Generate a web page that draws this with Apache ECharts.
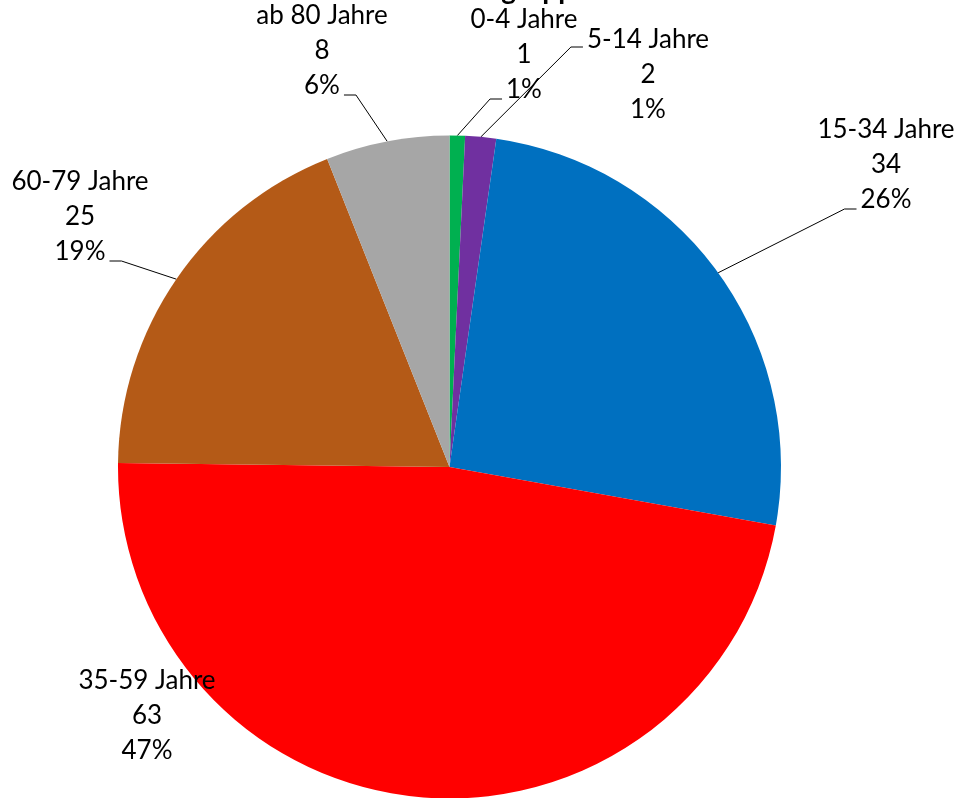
<!DOCTYPE html>
<html><head><meta charset="utf-8">
<script src="https://cdn.jsdelivr.net/npm/echarts@6/dist/echarts.min.js"></script>
<style>html,body{margin:0;padding:0;background:#fff}#c{width:958px;height:798px}</style>
</head><body><div id="c"></div>
<script>
const categories = ['0-4 Jahre', '5-14 Jahre', '15-34 Jahre', '35-59 Jahre', '60-79 Jahre', 'ab 80 Jahre'];
const values = [1, 2, 34, 63, 25, 8];
const percentLabels = ['1%', '1%', '26%', '47%', '19%', '6%'];
const colors = ['#00B050', '#7030A0', '#0070C0', '#FF0000', '#B45A17', '#A6A6A6'];
const titleText = 'Fälle nach Altersgruppe';

const FONT_SIZE = 26, LINE_H = 35, FONT_FAMILY = 'Lato';
const CX = 449.5, CY = 467, R = 331.5;
// label block centre (x, middle line y) and where the leader line attaches
const labelPlace = [
  { x: 524, y: 55, side: 'left', line: 'pct' },
  { x: 648, y: 75, side: 'left', line: 'name' },
  { x: 886, y: 165, side: 'left', line: 'pct' },
  { x: 147, y: 716, side: null },
  { x: 80, y: 217, side: 'right', line: 'pct' },
  { x: 322, y: 51, side: 'right', line: 'pct' }
];

const ctx = document.createElement('canvas').getContext('2d');
ctx.font = FONT_SIZE + 'px ' + FONT_FAMILY;
const tw = s => ctx.measureText(s).width;

const total = values.reduce((a, b) => a + b, 0);
const midAngles = [];
let acc = 0;
values.forEach(v => { midAngles.push((acc + v / 2) / total * 2 * Math.PI); acc += v; });

const chart = echarts.init(document.getElementById('c'), null, { renderer: 'canvas' });
chart.setOption({
  animation: false,
  backgroundColor: '#fff',
  title: {
    text: titleText, right: 364, top: -29,
    textStyle: { fontSize: 28, fontWeight: 'bold', fontFamily: FONT_FAMILY, color: '#000' }
  },
  series: [{
    type: 'pie',
    center: [CX, CY],
    radius: [0, R],
    startAngle: 90,
    clockwise: true,
    avoidLabelOverlap: false,
    itemStyle: { borderWidth: 0 },
    label: {
      show: true,
      position: 'outside',
      color: '#000',
      fontFamily: FONT_FAMILY,
      fontSize: FONT_SIZE,
      lineHeight: LINE_H,
      formatter: p => p.name + '\n' + p.value + '\n' + percentLabels[p.dataIndex]
    },
    labelLine: { show: true, lineStyle: { color: '#000', width: 1 } },
    labelLayout: function (params) {
      const i = params.dataIndex;
      const pl = labelPlace[i];
      const out = { x: pl.x, y: pl.y, align: 'center', verticalAlign: 'middle' };
      if (pl.side) {
        const a = midAngles[i];
        const p0 = [CX + R * Math.sin(a), CY - R * Math.cos(a)];
        const txt = pl.line === 'pct' ? percentLabels[i] : categories[i];
        const w = tw(txt);
        const ay = pl.line === 'pct' ? pl.y + 44 : pl.y - 28;
        let ex, kx;
        if (pl.side === 'left') { ex = pl.x - w / 2 - 4; kx = ex - 12; }
        else { ex = pl.x + w / 2 + 4; kx = ex + 12; }
        out.labelLinePoints = [p0, [kx, ay], [ex, ay]];
      }
      return out;
    },
    data: categories.map((c, i) => ({
      name: c, value: values[i],
      itemStyle: { color: colors[i] },
      labelLine: { show: !!labelPlace[i].side }
    }))
  }]
});
</script>
</body></html>
